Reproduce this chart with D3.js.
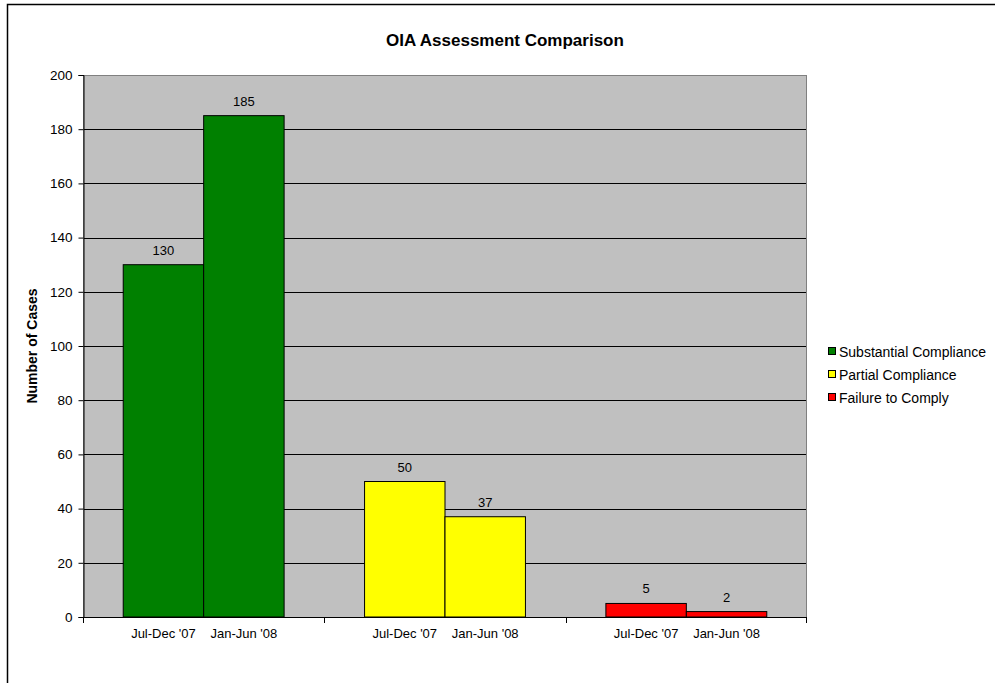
<!DOCTYPE html>
<html>
<head>
<meta charset="utf-8">
<script src="https://cdn.jsdelivr.net/npm/d3@7"></script>
<style>
  body { margin: 0; background: #fff; }
  text { font-family: "Liberation Sans", Arial, sans-serif; fill: #000; }
</style>
</head>
<body>
<div id="chart"></div>
<script>
// Datos del gráfico
const categories = ["Substantial Compliance", "Partial Compliance", "Failure to Comply"];
const periods = ["Jul-Dec '07", "Jan-Jun '08"];
const julDec07 = [130, 50, 5];
const janJun08 = [185, 37, 2];
const colors = ["#008000", "#FFFF00", "#FF0000"];
const yTicks = [0, 20, 40, 60, 80, 100, 120, 140, 160, 180, 200];

const W = 995, H = 683;
const plot = { left: 83, top: 75, right: 807, bottom: 617 };

const svg = d3.select("#chart").append("svg")
  .attr("width", W).attr("height", H);

// Borde exterior
svg.append("rect")
  .attr("x", 7.5).attr("y", 4.5)
  .attr("width", W + 10).attr("height", H + 10)
  .attr("fill", "none").attr("stroke", "#000").attr("stroke-width", 1.5);

// Escaladores
const x0 = d3.scaleBand().domain(categories)
  .range([plot.left, plot.right]).padding(0);
const x1 = d3.scaleBand().domain(periods)
  .range([0, x0.bandwidth()]).paddingInner(0).paddingOuter(0.5);
const y = d3.scaleLinear().domain([0, 200]).range([plot.bottom, plot.top]);

// Fondo del área de trazado
svg.append("rect")
  .attr("x", plot.left).attr("y", plot.top)
  .attr("width", plot.right - plot.left).attr("height", plot.bottom - plot.top)
  .attr("fill", "#C0C0C0");

// Líneas de cuadrícula
svg.append("g").selectAll("line")
  .data(yTicks.filter(d => d > 0 && d < 200))
  .join("line")
  .attr("x1", plot.left).attr("x2", plot.right)
  .attr("y1", d => Math.round(y(d)) + 0.5).attr("y2", d => Math.round(y(d)) + 0.5)
  .attr("stroke", "#000").attr("stroke-width", 1);

// Borde del área de trazado
svg.append("rect")
  .attr("x", plot.left + 0.5).attr("y", plot.top + 0.5)
  .attr("width", plot.right - plot.left - 1).attr("height", plot.bottom - plot.top)
  .attr("fill", "none").attr("stroke", "#808080");

// Barras
const rows = categories.map((c, i) => ({ cat: i, values: [julDec07[i], janJun08[i]] }));
const groups = svg.append("g").selectAll("g")
  .data(rows).join("g")
  .attr("transform", d => `translate(${x0(categories[d.cat])},0)`);

groups.selectAll("rect")
  .data(d => d.values.map((v, j) => ({ v, p: periods[j], c: d.cat })))
  .join("rect")
  .attr("x", d => x1(d.p))
  .attr("y", d => y(d.v))
  .attr("width", x1.bandwidth())
  .attr("height", d => y(0) - y(d.v))
  .attr("fill", d => colors[d.c])
  .attr("stroke", "#000").attr("stroke-width", 1);

// Etiquetas de valores
groups.selectAll("text.val")
  .data(d => d.values.map((v, j) => ({ v, p: periods[j] })))
  .join("text").attr("class", "val")
  .attr("x", d => x1(d.p) + x1.bandwidth() / 2)
  .attr("y", d => y(d.v) - 10)
  .attr("text-anchor", "middle")
  .style("font-size", "13px")
  .text(d => d.v);

// Etiquetas de periodo bajo cada barra
groups.selectAll("text.per")
  .data(periods)
  .join("text").attr("class", "per")
  .attr("x", d => x1(d) + x1.bandwidth() / 2)
  .attr("y", plot.bottom + 21)
  .attr("text-anchor", "middle")
  .style("font-size", "13px")
  .text(d => d);

// Eje Y
const yAxis = svg.append("g")
  .attr("transform", `translate(${plot.left + 0.5},0)`)
  .call(d3.axisLeft(y).tickValues(yTicks).tickSize(5).tickPadding(6));
yAxis.select(".domain").attr("stroke", "#000");
yAxis.selectAll(".tick line").attr("stroke", "#000");
yAxis.selectAll(".tick text").style("font-size", "13.5px")
  .style("font-family", "'Liberation Sans', Arial, sans-serif").attr("fill", "#000");

// Eje X (línea base y marcas entre grupos)
svg.append("line")
  .attr("x1", plot.left).attr("x2", plot.right)
  .attr("y1", plot.bottom + 0.5).attr("y2", plot.bottom + 0.5)
  .attr("stroke", "#000");
const bounds = categories.map(c => x0(c)).concat([plot.right - 1]);
svg.append("g").selectAll("line")
  .data(bounds).join("line")
  .attr("x1", d => Math.round(d) + 0.5).attr("x2", d => Math.round(d) + 0.5)
  .attr("y1", plot.bottom).attr("y2", plot.bottom + 6)
  .attr("stroke", "#000");

// Título
svg.append("text")
  .attr("x", 505).attr("y", 46)
  .attr("text-anchor", "middle")
  .style("font-size", "17px").style("font-weight", "bold")
  .text("OIA Assessment Comparison");

// Título del eje Y
svg.append("text")
  .attr("transform", `translate(37,${(plot.top + plot.bottom) / 2}) rotate(-90)`)
  .attr("text-anchor", "middle")
  .style("font-size", "14px").style("font-weight", "bold")
  .text("Number of Cases");

// Leyenda
const legend = svg.append("g").selectAll("g")
  .data(categories).join("g")
  .attr("transform", (d, i) => `translate(828,${352 + i * 23})`);
legend.append("rect")
  .attr("x", 0.5).attr("y", -4.5).attr("width", 7).attr("height", 7)
  .attr("fill", (d, i) => colors[i]).attr("stroke", "#000");
legend.append("text")
  .attr("x", 11).attr("y", 5)
  .style("font-size", "14px")
  .text(d => d);
</script>
</body>
</html>
